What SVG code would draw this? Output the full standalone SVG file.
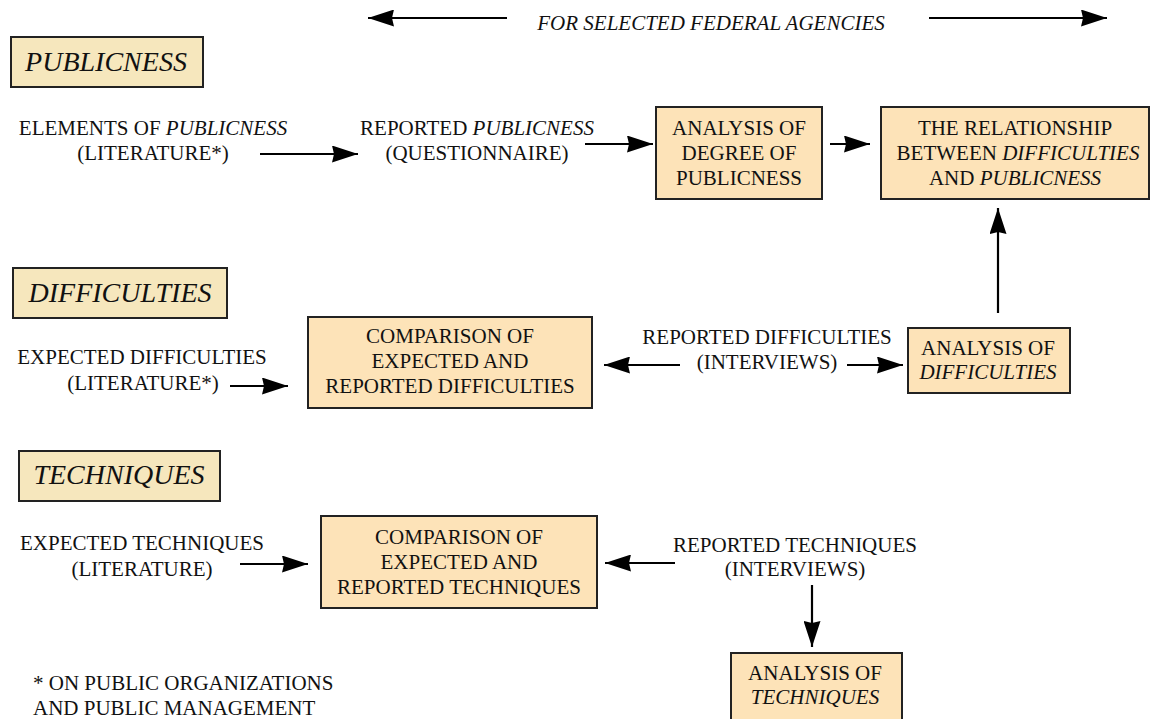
<svg xmlns="http://www.w3.org/2000/svg" width="1151" height="719" viewBox="0 0 1151 719">
<style>
text{font-family:"Liberation Serif","Times New Roman",serif;font-size:21px;fill:#111;text-anchor:middle}
.it{font-style:italic}
.hd{font-size:28px;font-style:italic}
.hbox{fill:#f6e7bd;stroke:#222;stroke-width:2}
.nbox{fill:#fde3b8;stroke:#222;stroke-width:2}
.ar{stroke:#000;stroke-width:2.2;fill:none;marker-end:url(#ah)}
</style>
<defs>
<marker id="ah" viewBox="0 0 26 17" refX="26" refY="8.5" markerWidth="26" markerHeight="17" markerUnits="userSpaceOnUse" orient="auto">
<path d="M0,0 L26,8.5 L0,17 L2,8.5 Z" fill="#000"/>
</marker>
</defs>
<rect width="1151" height="719" fill="#fff"/>

<g id="top-label">
<text x="711" y="30" class="it">FOR SELECTED FEDERAL AGENCIES</text>
</g>

<g id="hdr-publicness">
<rect class="hbox" x="11" y="37" width="192" height="50"/>
<text x="106" y="71" class="hd">PUBLICNESS</text>
</g>
<g id="hdr-difficulties">
<rect class="hbox" x="13" y="268" width="214" height="50"/>
<text x="120" y="302" class="hd">DIFFICULTIES</text>
</g>
<g id="hdr-techniques">
<rect class="hbox" x="19" y="451" width="201" height="50"/>
<text x="119" y="484" class="hd">TECHNIQUES</text>
</g>

<g id="elements-publicness">
<text x="153" y="135">ELEMENTS OF <tspan class="it">PUBLICNESS</tspan></text>
<text x="153" y="160">(LITERATURE*)</text>
</g>
<g id="reported-publicness">
<text x="477" y="135">REPORTED <tspan class="it">PUBLICNESS</tspan></text>
<text x="477" y="160">(QUESTIONNAIRE)</text>
</g>
<g id="analysis-degree">
<rect class="nbox" x="656" y="107" width="166" height="92"/>
<text x="739" y="135">ANALYSIS OF</text>
<text x="739" y="160">DEGREE OF</text>
<text x="739" y="185">PUBLICNESS</text>
</g>
<g id="relationship">
<rect class="nbox" x="881" y="107" width="268" height="92"/>
<text x="1015" y="135">THE RELATIONSHIP</text>
<text x="1018" y="160">BETWEEN <tspan class="it">DIFFICULTIES</tspan></text>
<text x="1015" y="185">AND <tspan class="it">PUBLICNESS</tspan></text>
</g>

<g id="expected-difficulties">
<text x="142" y="364">EXPECTED DIFFICULTIES</text>
<text x="143" y="390">(LITERATURE*)</text>
</g>
<g id="comparison-difficulties">
<rect class="nbox" x="308" y="317" width="284" height="91"/>
<text x="450" y="343">COMPARISON OF</text>
<text x="450" y="368">EXPECTED AND</text>
<text x="450" y="393">REPORTED DIFFICULTIES</text>
</g>
<g id="reported-difficulties">
<text x="767" y="344">REPORTED DIFFICULTIES</text>
<text x="767" y="369">(INTERVIEWS)</text>
</g>
<g id="analysis-difficulties">
<rect class="nbox" x="908" y="328" width="162" height="65"/>
<text x="988" y="355">ANALYSIS OF</text>
<text x="988" y="379" class="it">DIFFICULTIES</text>
</g>

<g id="expected-techniques">
<text x="142" y="550">EXPECTED TECHNIQUES</text>
<text x="142" y="576">(LITERATURE)</text>
</g>
<g id="comparison-techniques">
<rect class="nbox" x="321" y="516" width="276" height="92"/>
<text x="459" y="544">COMPARISON OF</text>
<text x="459" y="569">EXPECTED AND</text>
<text x="459" y="594">REPORTED TECHNIQUES</text>
</g>
<g id="reported-techniques">
<text x="795" y="552">REPORTED TECHNIQUES</text>
<text x="795" y="576">(INTERVIEWS)</text>
</g>
<g id="analysis-techniques">
<rect class="nbox" x="731" y="653" width="171" height="70"/>
<text x="815" y="680">ANALYSIS OF</text>
<text x="815" y="704" class="it">TECHNIQUES</text>
</g>

<g id="footnote">
<text x="33" y="690" style="text-anchor:start">* ON PUBLIC ORGANIZATIONS</text>
<text x="33" y="715" style="text-anchor:start">AND PUBLIC MANAGEMENT</text>
</g>

<g id="connectors">
<line class="ar" x1="507" y1="18" x2="368" y2="18"/>
<line class="ar" x1="929" y1="18" x2="1107" y2="18"/>
<line class="ar" x1="260" y1="154" x2="358" y2="154"/>
<line class="ar" x1="585" y1="144" x2="653" y2="144"/>
<line class="ar" x1="830" y1="144" x2="870" y2="144"/>
<line class="ar" x1="998" y1="313" x2="998" y2="208"/>
<line class="ar" x1="230" y1="386" x2="288" y2="386"/>
<line class="ar" x1="680" y1="365" x2="604" y2="365"/>
<line class="ar" x1="847" y1="365" x2="903" y2="365"/>
<line class="ar" x1="240" y1="564" x2="308" y2="564"/>
<line class="ar" x1="675" y1="563" x2="605" y2="563"/>
<line class="ar" x1="812" y1="585" x2="812" y2="647"/>
</g>
</svg>
